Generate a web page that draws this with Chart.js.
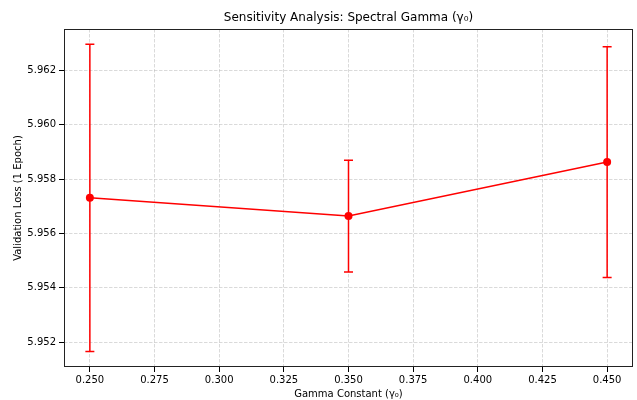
<!DOCTYPE html>
<html>
<head>
<meta charset="utf-8">
<script src="https://cdn.jsdelivr.net/npm/chart.js@4"></script>
<style>
  html, body { margin: 0; padding: 0; background: #fff; }
  #chart { display: block; }
</style>
</head>
<body>
<canvas id="chart" width="637" height="400"></canvas>
<script>
// values
var gammaValues = [0.25, 0.35, 0.45];
var meanLoss = [5.95731, 5.95664, 5.95863];
var stdLoss = [0.00566, 0.00206, 0.00425];

var xTicks = [0.25, 0.275, 0.30, 0.325, 0.35, 0.375, 0.40, 0.425, 0.45];
var yTicks = [5.952, 5.954, 5.956, 5.958, 5.960, 5.962];

var FONT = 'DejaVu Sans';
var TITLE = 'Sensitivity Analysis: Spectral Gamma (γ₀)';

// vertical error bars with caps, drawn through the scales
var errorBars = {
    id: 'errorBars',
    beforeDatasetsDraw: function (chart) {
        var ctx = chart.ctx;
        var xs = chart.scales.x;
        var ys = chart.scales.y;
        ctx.save();
        ctx.strokeStyle = '#ff0000';
        ctx.lineWidth = 1.5;
        gammaValues.forEach(function (g, i) {
            var px = xs.getPixelForValue(g);
            var top = ys.getPixelForValue(meanLoss[i] + stdLoss[i]);
            var bot = ys.getPixelForValue(meanLoss[i] - stdLoss[i]);
            ctx.beginPath();
            ctx.moveTo(px, top);
            ctx.lineTo(px, bot);
            ctx.moveTo(px - 4.5, top);
            ctx.lineTo(px + 4.5, top);
            ctx.moveTo(px - 4.5, bot);
            ctx.lineTo(px + 4.5, bot);
            ctx.stroke();
        });
        ctx.restore();
    }
};

// box around the plot area, and the title centred over it
var frame = {
    id: 'frame',
    afterDraw: function (chart) {
        var a = chart.chartArea;
        var ctx = chart.ctx;
        ctx.save();
        ctx.strokeStyle = '#222';
        ctx.lineWidth = 1;
        ctx.strokeRect(Math.round(a.left) + 0.5, Math.round(a.top) + 0.5,
            Math.round(a.right - a.left) - 1, Math.round(a.bottom - a.top) - 1);
        ctx.fillStyle = '#000';
        ctx.font = '12px "' + FONT + '"';
        ctx.textAlign = 'center';
        ctx.textBaseline = 'alphabetic';
        ctx.fillText(TITLE, (a.left + a.right) / 2, 21);
        ctx.restore();
    }
};

var points = gammaValues.map(function (g, i) { return { x: g, y: meanLoss[i] }; });

new Chart(document.getElementById('chart'), {
    type: 'line',
    data: {
        datasets: [{
            data: points,
            borderColor: '#ff0000',
            backgroundColor: '#ff0000',
            borderWidth: 1.5,
            pointRadius: 4,
            pointBorderWidth: 0,
            pointBackgroundColor: '#ff0000',
            fill: false,
            tension: 0
        }]
    },
    options: {
        responsive: false,
        animation: false,
        events: [],
        layout: { padding: { left: 0, right: 4, top: 29, bottom: 0 } },
        plugins: {
            legend: { display: false },
            tooltip: { enabled: false },
            title: { display: false }
        },
        scales: {
            x: {
                type: 'linear',
                min: 0.24,
                max: 0.46,
                afterBuildTicks: function (s) { s.ticks = xTicks.map(function (v) { return { value: v }; }); },
                afterFit: function (s) { s.height = 33; },
                ticks: {
                    color: '#000',
                    font: { family: FONT, size: 10 },
                    padding: 2,
                    maxRotation: 0,
                    autoSkip: false,
                    callback: function (v) { return v.toFixed(3); }
                },
                grid: {
                    color: 'rgba(176,176,176,0.6)',
                    lineWidth: 0.8,
                    drawTicks: true,
                    tickLength: 5,
                    tickColor: '#000',
                    tickWidth: 1,
                    tickBorderDash: []
                },
                border: { display: false, dash: [3.5, 1.5] },
                title: {
                    display: true,
                    text: 'Gamma Constant (γ₀)',
                    color: '#000',
                    font: { family: FONT, size: 10 },
                    padding: { top: 0, bottom: 0 }
                }
            },
            y: {
                type: 'linear',
                min: 5.95108,
                max: 5.96353,
                afterBuildTicks: function (s) { s.ticks = yTicks.map(function (v) { return { value: v }; }); },
                afterFit: function (s) { s.width = 64; },
                ticks: {
                    color: '#000',
                    font: { family: FONT, size: 10 },
                    padding: 3,
                    autoSkip: false,
                    callback: function (v) { return v.toFixed(3); }
                },
                grid: {
                    color: 'rgba(176,176,176,0.6)',
                    lineWidth: 0.8,
                    drawTicks: true,
                    tickLength: 5,
                    tickColor: '#000',
                    tickWidth: 1,
                    tickBorderDash: []
                },
                border: { display: false, dash: [3.5, 1.5] },
                title: {
                    display: true,
                    text: 'Validation Loss (1 Epoch)',
                    color: '#000',
                    font: { family: FONT, size: 10 },
                    padding: { top: 12, bottom: 0 }
                }
            }
        }
    },
    plugins: [errorBars, frame]
});
</script>
</body>
</html>
